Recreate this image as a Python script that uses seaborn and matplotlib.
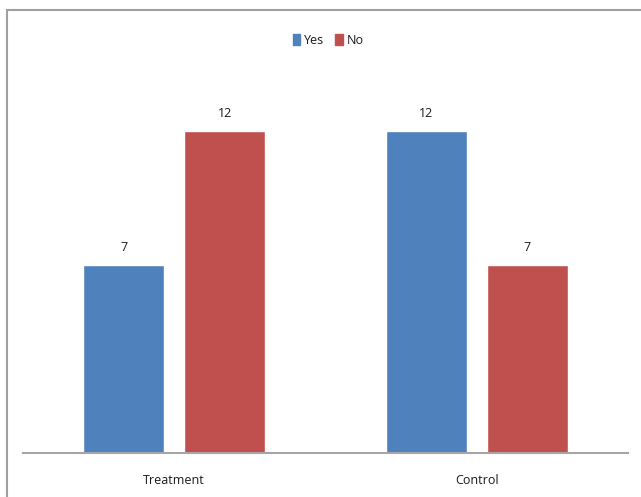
import matplotlib
matplotlib.use("Agg")
import matplotlib.pyplot as plt
from matplotlib.lines import Line2D
import seaborn as sns
import pandas as pd

# Data
groups = ["Treatment", "Control"]
responses = ["Yes", "No"]
yes_counts = [7, 12]
no_counts = [12, 7]
colors = ["#4F81BD", "#C0504D"]

df = pd.DataFrame({
    "group": groups * 2,
    "response": [responses[0]] * len(groups) + [responses[1]] * len(groups),
    "count": yes_counts + no_counts,
})

sns.set_theme(style="white")
plt.rcParams["font.family"] = ["Open Sans", "DejaVu Sans"]

fig = plt.figure(figsize=(6.41, 4.97), dpi=100)
ax = fig.add_axes([23 / 641, 1 - 453 / 497, 605 / 641, (453 - 77) / 497])

sns.barplot(data=df, x="group", y="count", hue="response", order=groups,
            hue_order=responses, palette=colors, width=0.667, gap=0.2,
            saturation=1, ax=ax, legend=False, errorbar=None)

ax.set_xlim(-0.5, 1.5)
ax.set_ylim(0, 14)
ax.set_xlabel("")
ax.set_ylabel("")
ax.set_yticks([])
for s in ["top", "right", "left"]:
    ax.spines[s].set_visible(False)
ax.spines["bottom"].set_color("#A6A6A6")
ax.spines["bottom"].set_linewidth(1.5)
ax.tick_params(axis="x", length=0, pad=15, labelsize=9, colors="#1A1A1A")

# Value labels above each bar
for container in ax.containers:
    ax.bar_label(container, padding=8, fontsize=9, color="#1A1A1A")

# Legend at the top centre
handles = [plt.Rectangle((0, 0), 1, 1, color=c) for c in colors]
fig.legend(handles, responses, loc="center", bbox_to_anchor=(328 / 641, 1 - 40 / 497),
           ncol=2, frameon=False, fontsize=9, handlelength=0.6, handleheight=1.0,
           handletextpad=0.3, columnspacing=0.9, labelcolor="#1A1A1A")

# Chart area outline (top and left edges)
edge = "#A0A0A0"
fig.add_artist(Line2D([7 / 641, 1], [1 - 9.5 / 497, 1 - 9.5 / 497], color=edge, lw=1.5,
                      transform=fig.transFigure))
fig.add_artist(Line2D([7 / 641, 7 / 641], [0, 1 - 9.5 / 497], color=edge, lw=1.5,
                      transform=fig.transFigure))

fig.savefig("out.png", dpi=100)
